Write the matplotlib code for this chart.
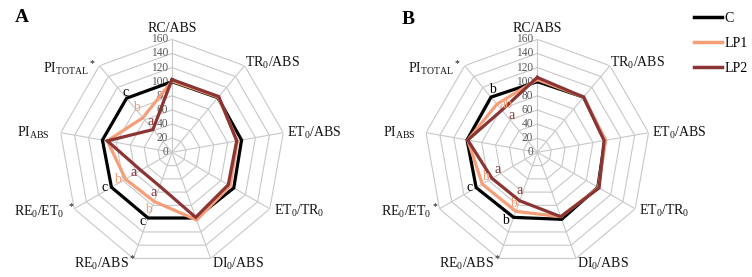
import numpy as np
import matplotlib
matplotlib.use("Agg")
import matplotlib.pyplot as plt
from matplotlib.lines import Line2D

plt.rcParams['font.family'] = ['Liberation Serif', 'DejaVu Serif']
plt.rcParams['mathtext.default'] = 'regular'

# ---- data ----
axis_labels = ["RC/ABS", "TR$_0$/ABS", "ET$_0$/ABS", "ET$_0$/TR$_0$", "DI$_0$/ABS",
               "RE$_0$/ABS$^*$", "RE$_0$/ET$_0$ $^*$", "PI$_{ABS}$", "PI$_{TOTAL}$$^*$"]
axis_labels_b = ["RC/ABS", "TR$_0$/ABS", "ET$_0$/ABS", "ET$_0$/TR$_0$", "DI$_0$/ABS",
                 "RE$_0$/ABS$^*$", "RE$_0$/ET$_0$$^*$", "PI$_{ABS}$", "PI$_{TOTAL}$$^*$"]
ring_values = [0, 20, 40, 60, 80, 100, 120, 140, 160]
series_names = ["C", "LP1", "LP2"]

A_C = [100, 101, 100, 101, 99, 99, 99, 100, 100]
A_LP1 = [101, 102, 94, 95, 102, 74, 76, 93, 64]
A_LP2 = [103, 103, 93, 92, 98, 51, 51, 93, 42]

B_C = [100, 102, 97, 99, 101, 98, 100, 101, 102]
B_LP1 = [103, 102, 98, 100, 97, 89, 90, 100, 89]
B_LP2 = [106, 102, 96, 101, 97, 73, 74, 100, 78]

# significance letters: (axis index, series index, letter)
A_letters = [(8, 0, "c"), (8, 1, "b"), (8, 2, "a"),
             (6, 0, "c"), (6, 1, "b"), (6, 2, "a"),
             (5, 0, "c"), (5, 1, "b"), (5, 2, "a")]
B_letters = [(8, 0, "b"), (8, 1, "ab"), (8, 2, "a"),
             (6, 0, "c"), (6, 1, "b"), (6, 2, "a"),
             (5, 0, "b"), (5, 1, "b"), (5, 2, "a")]

# ---- style ----
colors = ["#000000", "#F59E78", "#8B3434"]
grid_color = "#C8C8C8"
W, H = 752, 277
R = 113  # pixel radius of the 160 ring

A_letter_off = {(8, 0): (-1, 6), (8, 1): (-6, 10), (8, 2): (-2, 8),
                (6, 0): (-7, 0), (6, 1): (-8, 0), (6, 2): (-7, -2),
                (5, 0): (-6, -3), (5, 1): (-6, -8), (5, 2): (-6, -6)}
B_letter_off = {(8, 0): (1, 8), (8, 1): (9, 0), (8, 2): (10, -5),
                (6, 0): (-7, 0), (6, 1): (3, 8), (6, 2): (6, 9),
                (5, 0): (-8, -3), (5, 1): (-2, 8), (5, 2): (0, 10)}
label_off = [(0, 11), (28, 2.5), (31, 0), (29, -2.5), (27, -5),
             (-28, -5), (-30, -2.5), (-27, 0), (-30, -2.5)]

fig = plt.figure(figsize=(W / 100, H / 100), dpi=100)

n = len(axis_labels)
theta = np.deg2rad(np.arange(n) * 360.0 / n)
theta_closed = np.append(theta, theta[0])


def radar(cx, cy, labels, data, letters, letter_off):
    ax = fig.add_axes([(cx - R) / W, (H - cy - R) / H, 2 * R / W, 2 * R / H],
                      projection='polar')
    ax.set_theta_zero_location('N')
    ax.set_theta_direction(-1)
    ax.set_ylim(0, 160)
    ax.grid(False)
    ax.set_xticks([])
    ax.set_yticks([])
    ax.spines['polar'].set_visible(False)
    ax.patch.set_alpha(0)
    for rv in ring_values[1:]:
        ax.plot(theta_closed, [rv] * (n + 1), color=grid_color, lw=0.8, zorder=1)
    for t in theta:
        ax.plot([t, t], [0, ring_values[-1]], color=grid_color, lw=0.8, zorder=1)
    for rv in ring_values:
        ax.annotate(str(rv), xy=(0, rv), xytext=(-4, 0), textcoords='offset pixels',
                    ha='right', va='center', fontsize=8.3, color='#595959', zorder=2)
    lines = []
    for vals, c in zip(data, colors):
        v = np.append(vals, vals[0])
        ln, = ax.plot(theta_closed, v, color=c, lw=2.3, zorder=3,
                      solid_joinstyle='miter')
        lines.append(ln)
    for (i, s, txt) in letters:
        dx, dy = letter_off[(i, s)]
        ax.annotate(txt, xy=(theta[i], data[s][i]), xytext=(dx, dy),
                    textcoords='offset pixels', ha='center', va='center',
                    fontsize=10, color=colors[s], zorder=4)
    for i, lab in enumerate(labels):
        dx, dy = label_off[i]
        ax.annotate(lab, xy=(theta[i], 160), xytext=(dx, dy), textcoords='offset pixels',
                    ha='center', va='center', fontsize=10, color='#111111',
                    annotation_clip=False)
    return lines


radar(172, 152.3, axis_labels, [A_C, A_LP1, A_LP2], A_letters, A_letter_off)
radar(537.3, 152.3, axis_labels_b, [B_C, B_LP1, B_LP2], B_letters, B_letter_off)

fig.text(22 / W, 1 - 17 / H, "A", fontsize=14, fontweight='bold', ha='center', va='center')
fig.text(408 / W, 1 - 20 / H, "B", fontsize=14, fontweight='bold', ha='center', va='center')

handles = [Line2D([0], [0], color=c, lw=2.5) for c in colors]
fig.legend(handles, series_names, loc='upper left', bbox_to_anchor=(694 / W, 1 - 12 / H),
           frameon=False, fontsize=10, handlelength=2.0, handletextpad=0.2,
           labelspacing=0.85, borderpad=0, borderaxespad=0)

fig.savefig("out.png", dpi=100)
